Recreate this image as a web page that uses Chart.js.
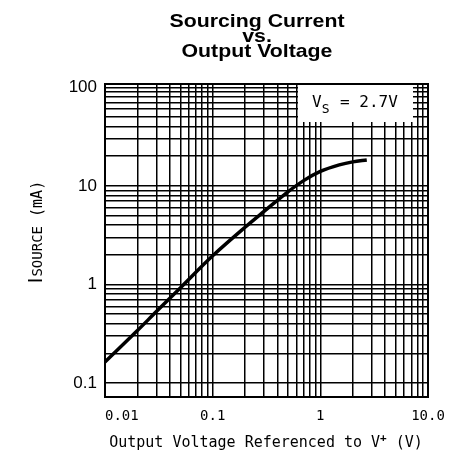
<!DOCTYPE html>
<html>
<head>
<meta charset="utf-8">
<script src="https://cdn.jsdelivr.net/npm/chart.js@4"></script>
<style>html,body{margin:0;padding:0;background:#fff}</style>
</head>
<body>
<canvas id="grafico" width="449" height="475"></canvas>
<script>
// curva (V, mA)
let tensao = [0.01, 0.02, 0.03, 0.05, 0.1, 0.2, 0.3, 0.5, 0.7, 1.0, 1.5, 2.0, 2.7]
let corrente = [0.163, 0.34, 0.53, 0.92, 1.95, 3.8, 5.5, 8.7, 11.3, 14.0, 16.3, 17.5, 18.3]

let decadasX = [0.01, 0.1, 1, 10]
let rotulosX = ["0.01", "0.1", "1", "10.0"]
let decadasY = [0.1, 1, 10, 100]
let rotulosY = ["0.1", "1", "10", "100"]
let passos = [1, 2, 3, 4, 5, 6, 7, 8, 9]

function grade(decadas){
  let g = []
  for(let i = 0; i < decadas.length - 1; i++){
    passos.forEach(p => g.push(decadas[i] * p))
  }
  g.push(decadas[decadas.length - 1])
  return g
}

let gradeX = grade(decadasX)
let gradeY = grade(decadasY)

const mono = "'DejaVu Sans Mono', monospace"

const textos = {
  id: "textos",
  afterDraw(chart){
    const ctx = chart.ctx
    const a = chart.chartArea
    const sx = chart.scales.x
    ctx.save()

    // moldura
    ctx.strokeStyle = "#000"
    ctx.lineWidth = 2
    ctx.strokeRect(a.left, a.top, a.right - a.left, a.bottom - a.top)

    // titulo (um pouco mais largo que a fonte normal)
    ctx.fillStyle = "#000"
    ctx.save()
    ctx.translate(257, 0)
    ctx.scale(1.12, 1)
    ctx.font = "bold 19px 'Liberation Sans', Arial, sans-serif"
    ctx.textAlign = "center"
    ctx.textBaseline = "alphabetic"
    ctx.fillText("Sourcing Current", 0, 27)
    ctx.fillText("vs.", 0, 42)
    ctx.fillText("Output Voltage", 0, 57)
    ctx.restore()

    // rotulos do eixo x
    ctx.font = "14px " + mono
    ctx.textBaseline = "middle"
    decadasX.forEach((v, i) => {
      ctx.textAlign = i == 0 ? "left" : "center"
      ctx.fillText(rotulosX[i], sx.getPixelForValue(v), 416)
    })

    // titulo do eixo x
    ctx.textBaseline = "alphabetic"
    ctx.textAlign = "left"
    ctx.font = "15px " + mono
    let t1 = "Output Voltage Referenced to V"
    let w1 = ctx.measureText(t1).width
    ctx.font = "bold 11px " + mono
    let w2 = ctx.measureText("+").width
    ctx.font = "15px " + mono
    let w3 = ctx.measureText(" (V)").width
    let x0 = 266 - (w1 + w2 + w3) / 2
    ctx.fillText(t1, x0, 447)
    ctx.font = "bold 11px " + mono
    ctx.fillText("+", x0 + w1, 441)
    ctx.font = "15px " + mono
    ctx.fillText(" (V)", x0 + w1 + w2, 447)

    // titulo do eixo y
    ctx.save()
    ctx.translate(42, 232)
    ctx.rotate(-Math.PI / 2)
    ctx.font = "19px 'DejaVu Sans', sans-serif"
    let a1 = ctx.measureText("I").width + 1
    ctx.font = "14px " + mono
    let a2 = ctx.measureText("SOURCE").width
    ctx.font = "15px " + mono
    let a3 = ctx.measureText(" (mA)").width
    let y0 = -(a1 + a2 + a3) / 2
    ctx.font = "19px 'DejaVu Sans', sans-serif"
    ctx.fillText("I", y0, 0)
    ctx.font = "14px " + mono
    ctx.fillText("SOURCE", y0 + a1, 0)
    ctx.font = "15px " + mono
    ctx.fillText(" (mA)", y0 + a1 + a2, 0)
    ctx.restore()

    // caixa Vs
    ctx.fillStyle = "#fff"
    ctx.fillRect(298, 85, 115, 37)
    ctx.fillStyle = "#000"
    ctx.font = "16px " + mono
    ctx.fillText("V", 312, 107)
    let vw = ctx.measureText("V").width
    ctx.font = "13px " + mono
    ctx.fillText("S", 312 + vw, 113)
    let sw = ctx.measureText("S").width
    ctx.font = "16px " + mono
    ctx.fillText(" = 2.7V", 313 + vw + sw, 107)

    ctx.restore()
  }
}

new Chart(document.getElementById("grafico"), {
  type: "line",
  data: {
    datasets: [{
      data: tensao.map((t, i) => ({x: t, y: corrente[i]})),
      borderColor: "#000",
      borderWidth: 3.5,
      pointRadius: 0,
      cubicInterpolationMode: "monotone",
      fill: false
    }]
  },
  options: {
    responsive: false,
    animation: false,
    layout: {padding: {top: 84, right: 21, left: 0, bottom: 0}},
    plugins: {legend: {display: false}, tooltip: {enabled: false}},
    scales: {
      x: {
        type: "logarithmic",
        min: 0.01,
        max: 10,
        afterBuildTicks(s){ s.ticks = gradeX.map(v => ({value: v})) },
        afterFit(s){ s.height = 78 },
        ticks: {display: false},
        grid: {color: "#000", lineWidth: 1.5, drawTicks: false},
        border: {display: false}
      },
      y: {
        type: "logarithmic",
        min: 0.072,
        max: 108,
        afterBuildTicks(s){ s.ticks = gradeY.map(v => ({value: v})) },
        afterFit(s){ s.width = 105 },
        ticks: {
          autoSkip: false,
          padding: 8,
          color: "#000",
          font: {family: "'Liberation Sans', Arial, sans-serif", size: 17},
          callback(v){
            let i = decadasY.indexOf(v)
            return i < 0 ? "" : rotulosY[i]
          }
        },
        grid: {color: "#000", lineWidth: 1.5, drawTicks: false},
        border: {display: false}
      }
    }
  },
  plugins: [textos]
})
</script>
</body>
</html>
